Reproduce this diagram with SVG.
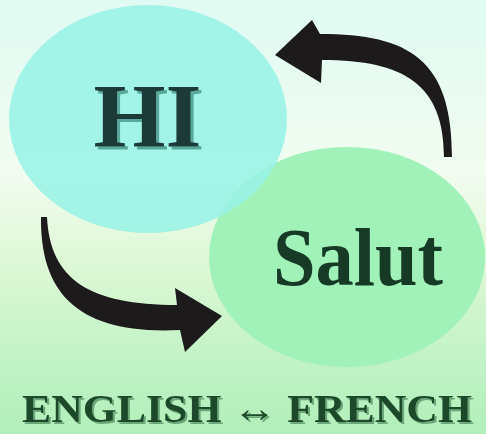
<svg xmlns="http://www.w3.org/2000/svg" width="486" height="434" viewBox="0 0 486 434">
<defs>
<linearGradient id="bg" x1="0" y1="0" x2="0" y2="1">
<stop offset="0" stop-color="#e0fbf3"/>
<stop offset="0.4" stop-color="#f2fcf0"/>
<stop offset="0.6" stop-color="#def8d6"/>
<stop offset="0.85" stop-color="#bff2c4"/>
<stop offset="1" stop-color="#b2efba"/>
</linearGradient>
<filter id="shHi" x="-10%" y="-10%" width="130%" height="130%">
<feFlood flood-color="#5aa89c"/>
<feComposite in2="SourceAlpha" operator="in"/>
<feOffset dx="2.5" dy="2.5" result="sh"/>
<feMerge><feMergeNode in="sh"/><feMergeNode in="SourceGraphic"/></feMerge>
</filter>
<filter id="shFoot" x="-5%" y="-20%" width="110%" height="150%">
<feFlood flood-color="#6aa878"/>
<feComposite in2="SourceAlpha" operator="in"/>
<feOffset dx="2" dy="2" result="sh"/>
<feMerge><feMergeNode in="sh"/><feMergeNode in="SourceGraphic"/></feMerge>
</filter>
<style>
.arrow{fill:#1c1a1a;}
.hi{font-family:"Liberation Serif","DejaVu Serif",serif;font-weight:bold;font-size:90px;text-anchor:middle;fill:#1c3b38;}
.salut{font-family:"Liberation Serif","DejaVu Serif",serif;font-weight:bold;font-size:82px;text-anchor:middle;fill:#163a26;}
.foot{font-family:"Liberation Serif","DejaVu Serif",serif;font-weight:bold;font-size:40px;fill:#1e4a2a;}
</style>
</defs>
<rect width="486" height="434" fill="url(#bg)"/>
<g id="node-salut">
<ellipse cx="347" cy="257" rx="138" ry="110" fill="#a0f2b8"/>
<text class="salut" x="358" y="285" textLength="170" lengthAdjust="spacingAndGlyphs">Salut</text>
</g>
<g id="node-hi">
<ellipse cx="148" cy="119" rx="139" ry="114" fill="#98f3e6" fill-opacity="0.88"/>
<text class="hi" x="147.5" y="147" filter="url(#shHi)" textLength="108" lengthAdjust="spacingAndGlyphs">HI</text>
</g>
<g id="connectors">
<path class="arrow" d="M 452 157 C 452 60, 410 34, 320 34 L 312 20 L 275 55 L 321 83 L 322 60 C 405 60, 444 85, 444 157 Z"/>
<path class="arrow" d="M 47 217 C 50 280, 90 305, 177 305 L 175 288 L 222 316 L 185 352 L 180 330 C 80 335, 40 295, 41 217 Z"/>
</g>
<g id="caption">
<text class="foot" x="22" y="422" filter="url(#shFoot)" textLength="450" lengthAdjust="spacingAndGlyphs">ENGLISH ↔ FRENCH</text>
</g>
</svg>
